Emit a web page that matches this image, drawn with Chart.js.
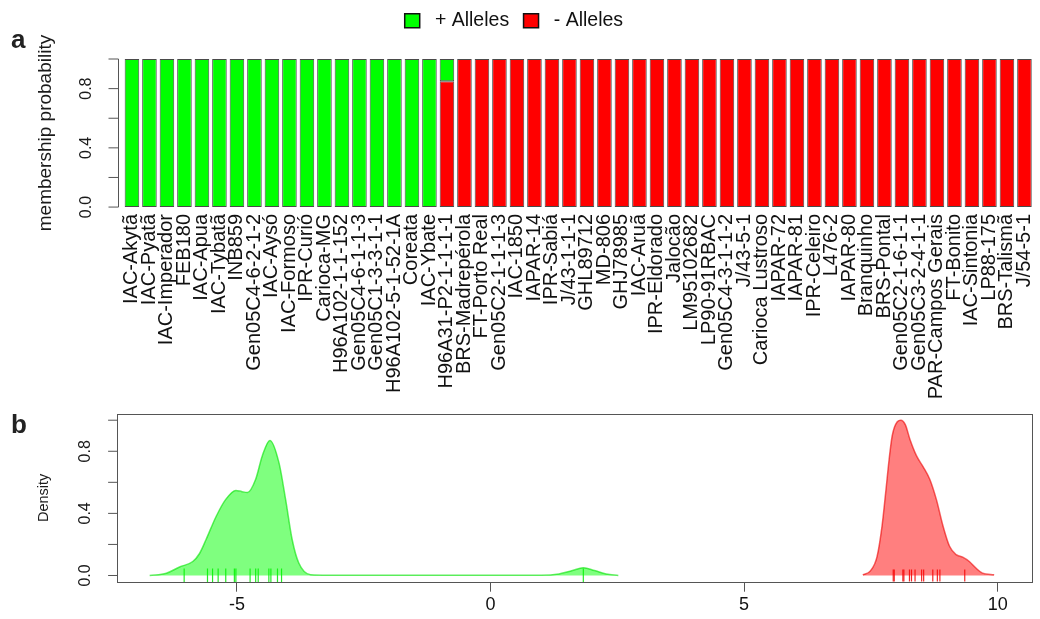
<!DOCTYPE html>
<html>
<head>
<meta charset="utf-8">
<script src="https://cdn.jsdelivr.net/npm/chart.js@4.4.1/dist/chart.umd.min.js"></script>
<style>
  html, body { margin: 0; padding: 0; background: #fff; }
  #fig { position: relative; width: 1040px; height: 619px; overflow: hidden; font-family: 'Liberation Sans', Arial, sans-serif; }
  #fig canvas { position: absolute; left: 0; }
  #cA { top: 0; }
  #cB { top: 400px; }
  .panel-tag { position: absolute; font-weight: bold; font-size: 26px; line-height: 26px; color: #222; }
</style>
</head>
<body>
<div id="fig">
  <canvas id="cA" width="1040" height="400"></canvas>
  <canvas id="cB" width="1040" height="219"></canvas>
  <div class="panel-tag" style="left:11px;top:26px">a</div>
  <div class="panel-tag" style="left:11px;top:411px">b</div>
</div>
<script>
// ---- panel a: membership probability per genotype ----
const genotypes = [
  'IAC-Akytã', 'IAC-Pyatã', 'IAC-Imperador', 'FEB180', 'IAC-Apua', 'IAC-Tybatã',
  'INB859', 'Gen05C4-6-2-1-2', 'IAC-Aysó', 'IAC-Formoso', 'IPR-Curió', 'Carioca-MG',
  'H96A102-1-1-152', 'Gen05C4-6-1-1-3', 'Gen05C1-3-3-1-1', 'H96A102-5-1-52-1A', 'Coreata', 'IAC-Ybate',
  'H96A31-P2-1-1-1-1', 'BRS-Madrepérola', 'FT-Porto Real', 'Gen05C2-1-1-1-3', 'IAC-1850', 'IAPAR-14',
  'IPR-Sabiá', 'J/43-1-1-1', 'GHL89712', 'MD-806', 'GHJ78985', 'IAC-Aruã',
  'IPR-Eldorado', 'Jalocão', 'LM95102682', 'LP90-91RBAC', 'Gen05C4-3-1-1-2', 'J/43-5-1',
  'Carioca Lustroso', 'IAPAR-72', 'IAPAR-81', 'IPR-Celeiro', 'L476-2', 'IAPAR-80',
  'Branquinho', 'BRS-Pontal', 'Gen05C2-1-6-1-1', 'Gen05C3-2-4-1-1', 'PAR-Campos Gerais', 'FT-Bonito',
  'IAC-Sintonia', 'LP88-175', 'BRS-Talismã', 'J/54-5-1'
];
const plusAlleles = [
  1, 1, 1, 1, 1, 1, 1, 1, 1, 1, 1, 1, 1, 1, 1, 1, 1, 1,
  0.15,
  0, 0, 0, 0, 0, 0, 0, 0, 0, 0, 0, 0, 0, 0, 0, 0, 0,
  0, 0, 0, 0, 0, 0, 0, 0, 0, 0, 0, 0, 0, 0, 0, 0
];
const minusAlleles = [
  0, 0, 0, 0, 0, 0, 0, 0, 0, 0, 0, 0, 0, 0, 0, 0, 0, 0,
  0.85,
  1, 1, 1, 1, 1, 1, 1, 1, 1, 1, 1, 1, 1, 1, 1, 1, 1,
  1, 1, 1, 1, 1, 1, 1, 1, 1, 1, 1, 1, 1, 1, 1, 1
];
const membershipTicks = [0, 0.2, 0.4, 0.6, 0.8, 1.0];
const membershipTickLabels = ['0.0', '', '0.4', '', '0.8', ''];

// ---- panel b: density of discriminant scores ----
const plusDensityX = [-6.72, -6.39, -6.13, -5.87, -5.74, -5.61, -5.41, -5.22, -5.02, -4.9, -4.79, -4.63, -4.5, -4.35,
  -4.17, -4.04, -3.91, -3.78, -3.55, -3.2, 1.0, 1.35, 1.6, 1.83, 2.05, 2.28, 2.52];
const plusDensityY = [0.0, 0.015, 0.055, 0.09, 0.14, 0.23, 0.38, 0.49, 0.548, 0.54, 0.535, 0.62, 0.77, 0.87,
  0.725, 0.49, 0.23, 0.08, 0.005, 0.002, 0.002, 0.01, 0.03, 0.05, 0.032, 0.01, 0.0];
const minusDensityX = [7.34, 7.49, 7.62, 7.72, 7.79, 7.86, 7.92, 8.02, 8.09, 8.18, 8.27, 8.4, 8.53, 8.66,
  8.79, 8.92, 9.05, 9.18, 9.31, 9.44, 9.57, 9.7, 9.93];
const minusDensityY = [0.004, 0.03, 0.12, 0.32, 0.53, 0.75, 0.9, 0.99, 1.0, 0.97, 0.876, 0.77, 0.7, 0.62,
  0.49, 0.32, 0.188, 0.134, 0.118, 0.09, 0.048, 0.015, 0.004];
const plusRug = [-6.04, -5.58, -5.48, -5.37, -5.22, -5.05, -5.02, -4.74, -4.63, -4.58, -4.37, -4.33, -4.2, -4.12, 1.83];
const minusRug = [7.94, 7.96, 8.13, 8.15, 8.26, 8.3, 8.37, 8.5, 8.54, 8.72, 8.81, 8.86, 9.35];
const densityTicks = [0, 0.2, 0.4, 0.6, 0.8, 1.0];
const densityTickLabels = ['0.0', '', '0.4', '', '0.8', ''];
const scoreTicks = [-5, 0, 5, 10];

Chart.defaults.font.family = "'Liberation Sans', Arial, Helvetica, sans-serif";
Chart.defaults.color = '#111';

// Base-graphics style left axis: line over the tick range, outward ticks,
// labels rotated parallel to the axis and a rotated axis title.
function makeLeftAxis(cfg) {
  return {
    id: 'leftAxis',
    afterDraw(chart) {
      const ys = chart.scales.y;
      const ctx = chart.ctx;
      const ax = Math.round(chart.chartArea.left - cfg.gap) + 0.5;
      const px = cfg.ticks.map(v => ys.getPixelForValue(v));
      ctx.save();
      ctx.strokeStyle = '#555';
      ctx.lineWidth = 1;
      ctx.beginPath();
      ctx.moveTo(ax, px[0]);
      ctx.lineTo(ax, px[px.length - 1]);
      px.forEach(p => { ctx.moveTo(ax, p); ctx.lineTo(ax - cfg.tickLength, p); });
      ctx.stroke();
      ctx.fillStyle = '#1a1a1a';
      ctx.textAlign = 'center';
      ctx.textBaseline = 'middle';
      ctx.font = cfg.tickSize + "px 'Liberation Sans', Arial, sans-serif";
      cfg.labels.forEach((t, i) => {
        if (!t) return;
        ctx.save();
        ctx.translate(ax - cfg.labelOffset, px[i]);
        ctx.rotate(-Math.PI / 2);
        ctx.fillText(t, 0, 0);
        ctx.restore();
      });
      ctx.font = cfg.titleSize + "px 'Liberation Sans', Arial, sans-serif";
      ctx.translate(ax - cfg.titleOffset, ys.getPixelForValue(0.5));
      ctx.rotate(-Math.PI / 2);
      ctx.fillText(cfg.title, 0, 0);
      ctx.restore();
    }
  };
}

const plotFrame = {
  id: 'plotFrame',
  afterDatasetsDraw(chart) {
    const {left, top, right, bottom} = chart.chartArea;
    const ctx = chart.ctx;
    ctx.save();
    ctx.strokeStyle = '#555';
    ctx.lineWidth = 1;
    ctx.strokeRect(Math.round(left) + 0.5, Math.round(top) + 0.5, Math.round(right - left), Math.round(bottom - top));
    ctx.restore();
  }
};

// Panel a: stacked membership bars
new Chart(document.getElementById('cA'), {
  type: 'bar',
  data: {
    labels: genotypes,
    datasets: [
      { label: '- Alleles', data: minusAlleles, backgroundColor: '#ff0000' },
      { label: '+ Alleles', data: plusAlleles, backgroundColor: '#00ff00' }
    ]
  },
  options: {
    responsive: false,
    animation: false,
    devicePixelRatio: 1,
    layout: { padding: { top: 2, left: 0, right: 6.8, bottom: 0 } },
    datasets: {
      bar: { barPercentage: 0.833, categoryPercentage: 1, borderWidth: 1, borderColor: '#4a4a4a', borderSkipped: false }
    },
    scales: {
      x: {
        stacked: true,
        offset: true,
        grid: { display: false, drawTicks: false },
        border: { display: false },
        ticks: { autoSkip: false, minRotation: 90, maxRotation: 90, padding: 1, color: '#111', font: { size: 20 } },
        afterFit(s) { s.height = 187; s.paddingLeft = 0; s.paddingRight = 0; }
      },
      y: {
        stacked: true,
        min: -0.04,
        max: 1.125,
        grid: { display: false },
        border: { display: false },
        ticks: { display: false },
        afterFit(s) { s.width = 123.2; }
      }
    },
    plugins: {
      legend: {
        position: 'top',
        reverse: true,
        labels: {
          color: '#111',
          font: { size: 19.5 },
          boxWidth: 15,
          boxHeight: 14,
          padding: 9,
          generateLabels(chart) {
            const items = Chart.defaults.plugins.legend.labels.generateLabels(chart);
            return items.map(it => Object.assign(it, { text: ' ' + it.text + ' ', strokeStyle: '#111', lineWidth: 1.5 }));
          }
        }
      },
      tooltip: { enabled: false }
    }
  },
  plugins: [makeLeftAxis({
    ticks: membershipTicks, labels: membershipTickLabels, title: 'membership probability',
    gap: 5, tickLength: 10, labelOffset: 31.5, titleOffset: 72.5, tickSize: 16, titleSize: 19
  })]
});

// Panel b: kernel densities with rug marks
const toPoints = (xs, ys) => xs.map((x, i) => ({ x: x, y: ys[i] }));
const toRug = xs => xs.map(x => ({ x: x, y: 0 }));

new Chart(document.getElementById('cB'), {
  type: 'line',
  data: {
    datasets: [
      { label: '+ Alleles', data: toPoints(plusDensityX, plusDensityY), borderColor: 'rgba(0,225,0,0.6)',
        backgroundColor: 'rgba(0,255,0,0.5)', fill: 'origin', pointRadius: 0, borderWidth: 1.5, cubicInterpolationMode: 'monotone' },
      { label: '- Alleles', data: toPoints(minusDensityX, minusDensityY), borderColor: 'rgba(235,0,0,0.6)',
        backgroundColor: 'rgba(255,0,0,0.5)', fill: 'origin', pointRadius: 0, borderWidth: 1.5, cubicInterpolationMode: 'monotone' },
      { type: 'scatter', label: '+ rug', data: toRug(plusRug), showLine: false, clip: false, pointStyle: 'line',
        pointRotation: 90, pointRadius: 7, pointBorderColor: 'rgba(0,230,0,0.85)', pointBorderWidth: 1.2 },
      { type: 'scatter', label: '- rug', data: toRug(minusRug), showLine: false, clip: false, pointStyle: 'line',
        pointRotation: 90, pointRadius: 6, pointBorderColor: 'rgba(240,0,0,0.85)', pointBorderWidth: 1.2 }
    ]
  },
  options: {
    responsive: false,
    animation: false,
    devicePixelRatio: 1,
    layout: { padding: { top: 14, left: 0, right: 8.3, bottom: 0 } },
    scales: {
      x: {
        type: 'linear',
        min: -7.37,
        max: 10.67,
        afterBuildTicks(s) { s.ticks = scoreTicks.map(v => ({ value: v })); },
        grid: { drawOnChartArea: false, drawTicks: true, tickLength: 10, color: '#555' },
        border: { display: false },
        ticks: { padding: 3, color: '#111', font: { size: 18 }, callback: v => String(v) },
        afterFit(s) { s.height = 37.3; s.paddingLeft = 0; s.paddingRight = 0; }
      },
      y: {
        type: 'linear',
        min: -0.04,
        max: 1.04,
        grid: { display: false },
        border: { display: false },
        ticks: { display: false },
        afterFit(s) { s.width = 116.7; }
      }
    },
    plugins: { legend: { display: false }, tooltip: { enabled: false } }
  },
  plugins: [plotFrame, makeLeftAxis({
    ticks: densityTicks, labels: densityTickLabels, title: 'Density',
    gap: 0, tickLength: 9.4, labelOffset: 32, titleOffset: 73.4, tickSize: 16, titleSize: 14.5
  })]
});
</script>
</body>
</html>
